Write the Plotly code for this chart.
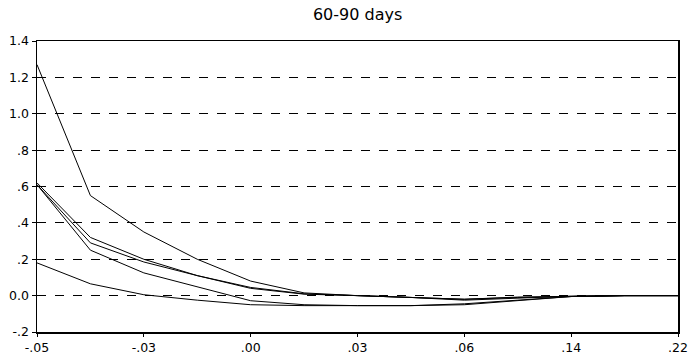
import plotly.graph_objects as go

x_index = list(range(13))
tick_positions = [0, 2, 4, 6, 8, 10, 12]
tick_labels = ["-.05", "-.03", ".00", ".03", ".06", ".14", ".22"]

series_1 = [1.27, 0.55, 0.35, 0.20, 0.08, 0.015, 0.00, -0.01, -0.02, -0.008, -0.003, 0.00, 0.00]
series_2 = [0.62, 0.32, 0.20, 0.11, 0.045, 0.01, 0.00, -0.01, -0.02, -0.01, -0.003, 0.00, 0.00]
series_3 = [0.61, 0.29, 0.185, 0.11, 0.04, 0.008, 0.00, -0.01, -0.025, -0.012, -0.003, 0.00, 0.00]
series_4 = [0.61, 0.25, 0.125, 0.05, -0.028, -0.05, -0.055, -0.055, -0.045, -0.025, -0.005, 0.00, 0.00]
series_5 = [0.18, 0.065, 0.005, -0.025, -0.05, -0.055, -0.055, -0.055, -0.05, -0.027, -0.005, 0.00, 0.00]

y_tickvals = [-0.2, 0.0, 0.2, 0.4, 0.6, 0.8, 1.0, 1.2, 1.4]
y_ticktext = ["-.2", "0.0", ".2", ".4", ".6", ".8", "1.0", "1.2", "1.4"]

fig = go.Figure()
for s in [series_1, series_2, series_3, series_4, series_5]:
    fig.add_trace(go.Scatter(x=x_index, y=s, mode="lines",
                             line=dict(color="black", width=1), showlegend=False,
                             hoverinfo="skip"))

fig.update_layout(
    width=689, height=354,
    margin=dict(l=37, r=11, t=41, b=22),
    paper_bgcolor="white", plot_bgcolor="white",
    font=dict(family="DejaVu Sans, Liberation Sans, Arial, sans-serif", size=12.5, color="black"),
    title=dict(text="60-90 days", x=0.519, xanchor="center", y=0.96, yanchor="middle",
               font=dict(size=16, color="black")),
)
fig.update_xaxes(range=[0, 12], tickmode="array", tickvals=tick_positions, ticktext=tick_labels,
                 showgrid=False, zeroline=False, showline=True, linecolor="black", linewidth=1.5,
                 mirror=True, ticks="outside", ticklen=3, tickcolor="black", automargin=False)
fig.update_yaxes(range=[-0.2, 1.4], tickmode="array", tickvals=y_tickvals, ticktext=y_ticktext,
                 showgrid=True, gridcolor="black", griddash="dash", gridwidth=1,
                 zeroline=False, showline=True, linecolor="black", linewidth=1.5,
                 mirror=True, ticks="outside", ticklen=4, tickcolor="black", automargin=False)

fig.write_html("out.html", config={"displayModeBar": False, "staticPlot": True},
               post_script="document.body.style.margin='0';")
